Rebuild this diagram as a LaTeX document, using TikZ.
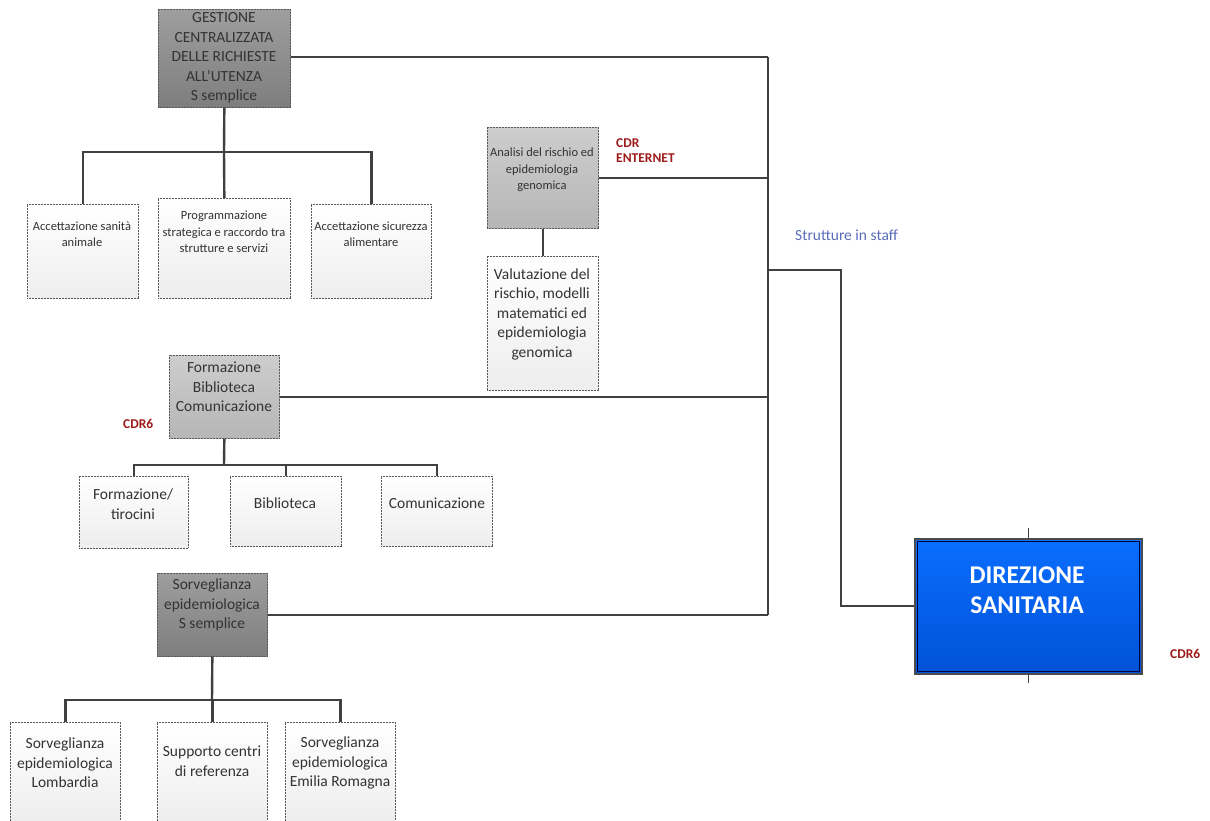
\documentclass[tikz,border=0pt]{standalone}
\usepackage{fontspec}
\setmainfont{Carlito}
\definecolor{ink}{HTML}{333333}
\definecolor{wire}{HTML}{404040}
\definecolor{cdrred}{HTML}{9E1B1B}
\definecolor{staffblue}{HTML}{5A6DB8}
\definecolor{dirtop}{HTML}{0A6EFF}
\definecolor{dirbot}{HTML}{0052D6}
\tikzset{
  box/.style={draw=gray!70!black, dash pattern=on 0.9pt off 0.6pt, line width=0.7pt,
    inner sep=0pt, anchor=north west},
  darkbox/.style={box, top color={rgb,255:red,158;green,158;blue,158}, bottom color={rgb,255:red,126;green,126;blue,126}},
  midbox/.style={box, top color={rgb,255:red,205;green,205;blue,205}, bottom color={rgb,255:red,182;green,182;blue,182}},
  childbox/.style={box, top color=white, bottom color=gray!14},
  txt/.style={align=center, text=ink, inner sep=0pt, font=\fontsize{15.5}{19.5}\selectfont},
  smalltxt/.style={align=center, text=ink, inner sep=0pt, font=\fontsize{12.5}{16.5}\selectfont},
  cdr/.style={text=cdrred, inner sep=0pt, align=left, anchor=west, font=\bfseries\fontsize{13.5}{15}\selectfont},
  wire/.style={draw=wire, line width=2pt},
  tree/.style={draw=wire, line width=2.4pt},
}
\begin{document}
\begin{tikzpicture}[x=1pt,y=-1pt]
\useasboundingbox (0,0) rectangle (1210,820);

% ---- Gestione centralizzata and its three units
\node[darkbox, minimum width=132, minimum height=98] (g) at (158,9) {};
\node[txt] (gt) at (224,58) {GESTIONE\\CENTRALIZZATA\\DELLE RICHIESTE\\ALL’UTENZA\\S semplice};
\node[childbox, minimum width=111, minimum height=94] (g1) at (27,204) {};
\node[childbox, minimum width=132, minimum height=100] (g2) at (158,198) {};
\node[childbox, minimum width=120, minimum height=94] (g3) at (311,204) {};
\node[smalltxt] (g1t) at (82,234) {Accettazione sanità\\animale};
\node[smalltxt] (g2t) at (224,232) {Programmazione\\strategica e raccordo tra\\strutture e servizi};
\node[smalltxt] (g3t) at (371,234) {Accettazione sicurezza\\alimentare};
\coordinate (gb) at (224,152);
\draw[tree] (g.south) -- (gb);
\draw[tree] (g1.north) -- (g1.north |- gb) -- (g3.north |- gb) -- (g3.north);
\draw[tree] (gb) -- (g2.north);

% ---- Analisi del rischio
\node[midbox, minimum width=111, minimum height=101] (a) at (487,127) {};
\node[smalltxt] (at) at (542,170) {Analisi del rischio ed\\epidemiologia\\genomica};
\node[childbox, minimum width=111, minimum height=134] (a1) at (487,256) {};
\node[txt] (a1t) at (542,314) {Valutazione del\\rischio, modelli\\matematici ed\\epidemiologia\\genomica};
\draw[tree] (a.south) -- (a1.north);
\node[cdr] (cdrint) at (616,151) {CDR\\ENTERNET};

% ---- Formazione Biblioteca Comunicazione
\node[midbox, minimum width=110, minimum height=83] (f) at (169,355) {};
\node[txt] (ft) at (224,387) {Formazione\\Biblioteca\\Comunicazione};
\node[cdr] (cdrf) at (123,424) {CDR6};
\node[childbox, minimum width=109, minimum height=72] (f1) at (79,476) {};
\node[childbox, minimum width=111, minimum height=70] (f2) at (230,476) {};
\node[childbox, minimum width=111, minimum height=70] (f3) at (381,476) {};
\node[txt] (f1t) at (133,504) {Formazione/\\tirocini};
\node[txt] (f2t) at (285,503) {Biblioteca};
\node[txt] (f3t) at (437,503) {Comunicazione};
\coordinate (fb) at (224,465);
\draw[tree] (f.south) -- (fb);
\draw[tree] (f1.north) -- (f1.north |- fb) -- (f3.north |- fb) -- (f3.north);
\draw[tree] (f2.north) -- (f2.north |- fb);

% ---- Sorveglianza epidemiologica
\node[darkbox, minimum width=110, minimum height=83] (s) at (157,573) {};
\node[txt] (st) at (212,605) {Sorveglianza\\epidemiologica\\S semplice};
\node[childbox, minimum width=110, minimum height=102] (s1) at (10,722) {};
\node[childbox, minimum width=110, minimum height=102] (s2) at (157,722) {};
\node[childbox, minimum width=110, minimum height=102] (s3) at (285,722) {};
\node[txt] (s1t) at (65,763) {Sorveglianza\\epidemiologica\\Lombardia};
\node[txt] (s2t) at (212,761) {Supporto centri\\di referenza};
\node[txt] (s3t) at (340,763) {Sorveglianza\\epidemiologica\\Emilia Romagna};
\coordinate (sb) at (212,700);
\draw[tree] (s.south) -- (sb);
\draw[tree] (s1.north) -- (s1.north |- sb) -- (s3.north |- sb) -- (s3.north);
\draw[tree] (s2.north) -- (s2.north |- sb);

% ---- Direzione sanitaria
\node[draw=gray!60!black, line width=1.6pt, top color=dirtop, bottom color=dirbot,
      minimum width=227, minimum height=135, inner sep=0pt, anchor=north west] (d) at (914,538) {};
\draw[draw=blue!25!black, line width=0.8pt] ([xshift=3.5pt,yshift=-3.5pt]d.north west) rectangle ([xshift=-3.5pt,yshift=3.5pt]d.south east);
\node[text=white, align=center, inner sep=0pt, font=\bfseries\fontsize{25.5}{30}\selectfont] (dt) at (1027,590) {DIREZIONE\\SANITARIA};
\draw[wire, line width=1.2pt] (d.north) -- ++(0,-10);
\draw[wire, line width=1.2pt] (d.south) -- ++(0,8);
\node[cdr] (cdrd) at (1170,654) {CDR6};

% ---- staff spine
\coordinate (sp) at (768,57);
\coordinate (sj) at (768,270);
\draw[wire] (g.east |- sp) -- (sp);
\draw[wire] (sp) -- (sp |- s.east);
\draw[wire, line width=1.6pt] (a.east) -- (a.east -| sp);
\draw[wire, line width=1.6pt] (f.east) -- (f.east -| sp);
\draw[wire, line width=1.6pt] (s.east) -- (s.east -| sp);
\draw[wire] (sj) -- ++(73,0) |- (d.west);
\node[text=staffblue, anchor=west, inner sep=0pt, font=\fontsize{15.5}{18}\selectfont] (staff) at (795,235) {Strutture in staff};
\end{tikzpicture}
\end{document}
